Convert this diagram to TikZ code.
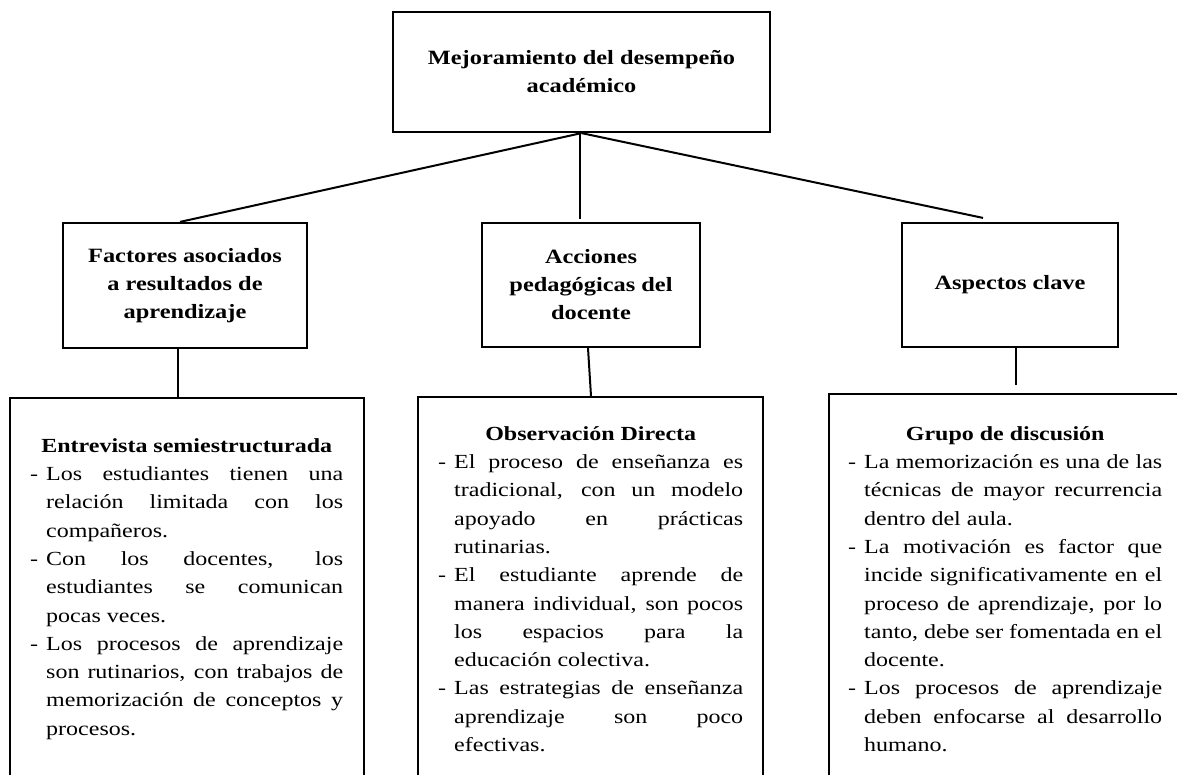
\documentclass[tikz,border=0pt]{standalone}
\usepackage{fontspec}
\setmainfont{Liberation Serif}[FakeStretch=1.2]
\newcommand{\dsh}{\makebox[16pt][l]{-}}
\newcommand{\ind}{\hspace*{16pt}}
\newcommand{\J}[2]{\makebox[#1][s]{#2}}
\newcommand{\Hd}[2]{\makebox[#1][c]{\bfseries\rule{0pt}{20pt}#2}}
\tikzset{
  box/.style={draw, line width=2.2pt, inner sep=0pt},
  titlebox/.style={box, font=\fontsize{20.3}{28}\selectfont\bfseries, align=center},
  link/.style={line width=2pt},
  body/.style={inner sep=0pt, align=left, anchor=north west, font=\fontsize{20}{28.3}\selectfont},
}
\begin{document}
\begin{tikzpicture}[x=1pt,y=-1pt]
\useasboundingbox (0,0) rectangle (1177,774);
\clip (0,0) rectangle (1177,774);
\fill[white] (0,0) rectangle (1177,774);

\node[titlebox, minimum width=377pt, minimum height=120pt] (top) at (581.5,72) {Mejoramiento del desempeño\\académico};
\node[titlebox, minimum width=244pt, minimum height=125pt] (fac) at (185,285.5) {Factores asociados\\a resultados de\\aprendizaje};
\node[titlebox, minimum width=218pt, minimum height=124pt] (acc) at (591,285) {Acciones\\pedagógicas del\\docente};
\node[titlebox, minimum width=216pt, minimum height=124pt] (asp) at (1010,285) {Aspectos clave};

\node[box, anchor=north west, minimum width=354pt, minimum height=420pt] (b1) at (9,397) {};
\node[box, anchor=north west, minimum width=345pt, minimum height=420pt] (b2) at (417,396) {};
\node[box, anchor=north west, minimum width=400pt, minimum height=420pt] (b3) at (828,393) {};

\draw[link] (top.south) -- ([xshift=-5pt]fac.north);
\draw[link, shorten >=3pt] ([xshift=-2pt]top.south) -- ([xshift=-2pt]top.south |- acc.north);
\draw[link] (top.south) -- ([xshift=-27pt,yshift=4pt]asp.north);

\draw[link] ([xshift=-7pt]fac.south) -- ([xshift=-7pt]fac.south |- b1.north);
\draw[link] ([xshift=-3pt]acc.south) -- ([xshift=0pt]acc.south |- b2.north);
\draw[link, shorten >=8pt] ([xshift=6pt]asp.south) -- ([xshift=6pt]asp.south |- b3.north);

\node[body] (t1) at (30,432) {%
\Hd{313pt}{Entrevista semiestructurada}\\
\dsh\J{297pt}{Los estudiantes tienen una}\\
\ind\J{297pt}{relación limitada con los}\\
\ind compañeros.\\
\dsh\J{297pt}{Con los docentes, los}\\
\ind\J{297pt}{estudiantes se comunican}\\
\ind pocas veces.\\
\dsh\J{297pt}{Los procesos de aprendizaje}\\
\ind\J{297pt}{son rutinarios, con trabajos de}\\
\ind\J{297pt}{memorización de conceptos y}\\
\ind procesos.};

\node[body] (t2) at (438,420) {%
\Hd{305pt}{Observación Directa}\\
\dsh\J{289pt}{El proceso de enseñanza es}\\
\ind\J{289pt}{tradicional, con un modelo}\\
\ind\J{289pt}{apoyado en prácticas}\\
\ind rutinarias.\\
\dsh\J{289pt}{El estudiante aprende de}\\
\ind\J{289pt}{manera individual, son pocos}\\
\ind\J{289pt}{los espacios para la}\\
\ind educación colectiva.\\
\dsh\J{289pt}{Las estrategias de enseñanza}\\
\ind\J{289pt}{aprendizaje son poco}\\
\ind efectivas.};

\node[body] (t3) at (848,420) {%
\Hd{314pt}{Grupo de discusión}\\
\dsh\J{298pt}{La memorización es una de las}\\
\ind\J{298pt}{técnicas de mayor recurrencia}\\
\ind dentro del aula.\\
\dsh\J{298pt}{La motivación es factor que}\\
\ind\J{298pt}{incide significativamente en el}\\
\ind\J{298pt}{proceso de aprendizaje, por lo}\\
\ind\J{298pt}{tanto, debe ser fomentada en el}\\
\ind docente.\\
\dsh\J{298pt}{Los procesos de aprendizaje}\\
\ind\J{298pt}{deben enfocarse al desarrollo}\\
\ind humano.};
\end{tikzpicture}
\end{document}
